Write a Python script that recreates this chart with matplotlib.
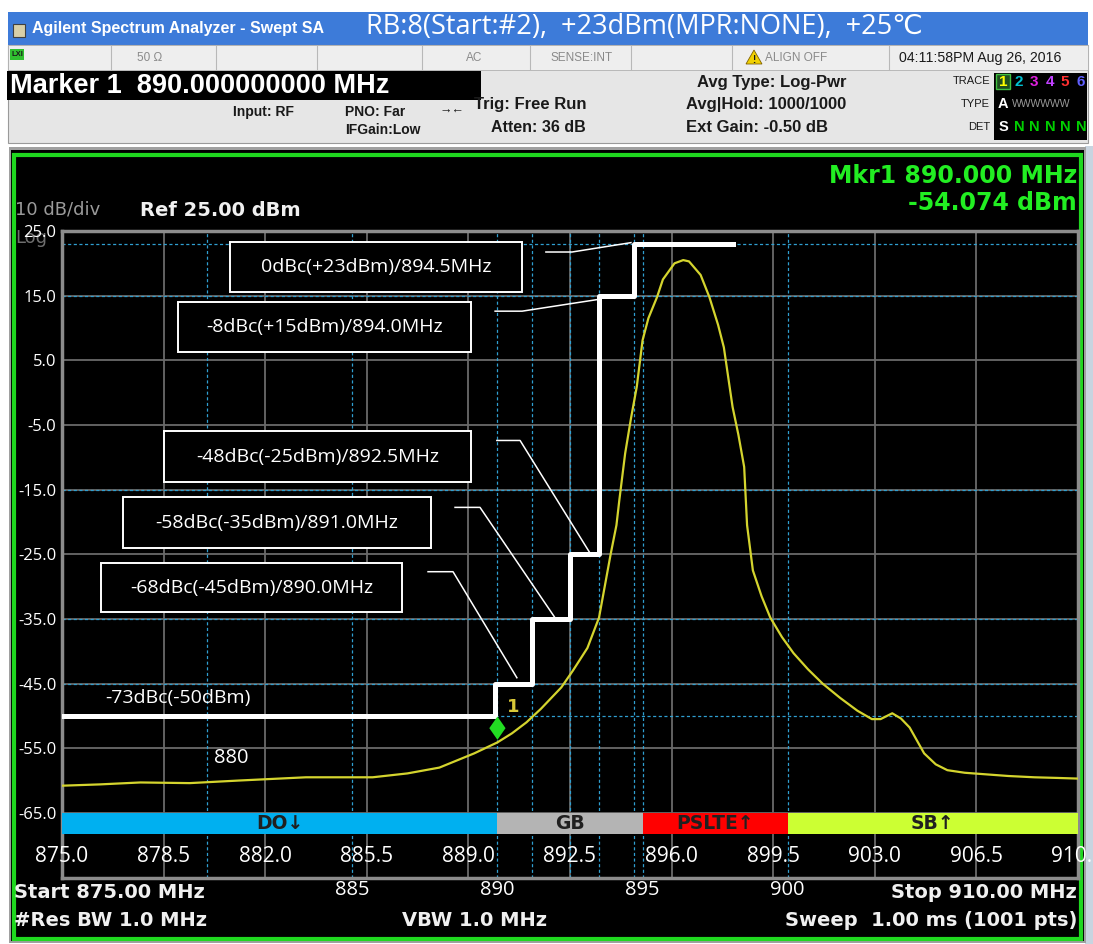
import matplotlib
matplotlib.use("Agg")
import matplotlib.pyplot as plt
import numpy as np
from matplotlib.patches import Rectangle, Polygon

W, H = 1093, 944

# =============================================================================
# values
# =============================================================================
trace_freq = [875.0, 876.3, 877.7, 879.4, 881.1, 883.4, 885.7, 886.9, 888.0, 889.2,
              890.0, 890.5, 891.0, 891.5, 892.2, 892.6, 893.1, 893.5, 893.9, 894.1,
              894.2, 894.4, 894.6, 894.8, 895.0, 895.2, 895.5, 895.7, 896.1, 896.4,
              896.6, 897.0, 897.3, 897.6, 897.8, 898.1, 898.3, 898.5, 898.6, 898.8,
              899.1, 899.4, 899.8, 900.2, 900.7, 901.2, 901.8, 902.4, 902.9, 903.2,
              903.6, 903.9, 904.2, 904.7, 905.1, 905.5, 906.1, 906.7, 907.6, 908.5,
              909.3, 910.0]
trace_dbm = [-60.8, -60.6, -60.3, -60.4, -60.0, -59.5, -59.5, -58.9, -58.0, -55.8,
             -54.1, -52.7, -51.0, -48.9, -45.6, -43.0, -39.5, -34.8, -25.0, -20.5,
             -16.6, -9.4, -4.0, 0.9, 8.1, 11.5, 14.8, 17.5, 20.0, 20.5,
             20.3, 18.2, 14.8, 10.5, 7.0, -2.2, -6.5, -11.5, -20.5, -27.5,
             -31.5, -34.8, -37.8, -40.3, -42.8, -45.0, -47.2, -49.2, -50.5, -50.5,
             -49.6, -50.4, -51.8, -55.8, -57.5, -58.4, -58.8, -59.0, -59.3, -59.5,
             -59.6, -59.7]

mask_freq = [875.0, 889.9, 891.2, 892.5, 893.5, 894.7, 898.1]
mask_dbm = [-50, -45, -35, -25, 15, 23]

band_names = ['DO↓', 'GB', 'PSLTE↑', 'SB↑']
band_edges = [875, 890, 895, 900, 910]
band_colors = ['#00b0f0', '#b4b4b4', '#ff0000', '#ccff33']

ytick_vals = [25, 15, 5, -5, -15, -25, -35, -45, -55, -65]
ytick_labels = ['25.0', '15.0', '5.0', '-5.0', '-15.0', '-25.0', '-35.0',
                '-45.0', '-55.0', '-65.0']
grid_ticks = [875.0, 878.5, 882.0, 885.5, 889.0, 892.5, 896.0, 899.5, 903.0, 906.5, 910.0]
grid_labels = ['875.0', '878.5', '882.0', '885.5', '889.0', '892.5', '896.0',
               '899.5', '903.0', '906.5', '910.0']
freq_ticks = [885, 890, 895, 900]
freq_labels = ['885', '890', '895', '900']

guide_freq = [880, 885, 890, 891.2, 892.5, 893.5, 894.7, 895, 900]
guide_dbm = [23, 15, -15, -35, -45, -50]

mask_notes = ['0dBc(+23dBm)/894.5MHz', '-8dBc(+15dBm)/894.0MHz',
              '-48dBc(-25dBm)/892.5MHz', '-58dBc(-35dBm)/891.0MHz',
              '-68dBc(-45dBm)/890.0MHz']

marker_freq = 890.0
marker_dbm = -54.074

# =============================================================================
# figure / background in pixel coords
# =============================================================================
fig = plt.figure(figsize=(W / 100, H / 100), dpi=100)
fig.patch.set_facecolor('white')
bg = fig.add_axes([0, 0, 1, 1])
bg.set_xlim(0, W)
bg.set_ylim(H, 0)
bg.axis('off')


def rect(x0, y0, x1, y1, fc, ec='none', lw=0, z=1):
    bg.add_patch(Rectangle((x0, y0), x1 - x0, y1 - y0, fc=fc, ec=ec, lw=lw, zorder=z))


def txt(x, y, s, size, color='#1a1a1a', ha='left', weight='bold', family='Liberation Sans', z=3):
    bg.text(x, y, s, fontsize=size, color=color, ha=ha, va='center',
            fontweight=weight, family=family, zorder=z)


# title bar
rect(8, 12, 1088, 45, '#3d7bd9')
rect(13, 24, 25, 37, '#d8cfa8', ec='#404040', lw=0.8, z=2)
txt(32, 29, 'Agilent Spectrum Analyzer - Swept SA', 11.5, color='white')
txt(366, 27, 'RB:8(Start:#2),  +23dBm(MPR:NONE),  +25℃', 19.5, color='white',
    weight='normal', family=['Open Sans', 'DejaVu Sans'])

# status row
rect(8, 45, 1088, 143, '#e6e6e6', ec='#9a9a9a', lw=0.8)
rect(8, 45, 1088, 70, '#eeeeee', ec='#b0b0b0', lw=0.6)
for sx in [111, 216, 317, 422, 530, 631, 732, 889]:
    bg.plot([sx, sx], [46, 69], color='#b8b8b8', lw=0.8, zorder=2)
rect(10, 49, 24, 60, '#30c030', z=2)
txt(17, 55, 'LXI', 5.5, ha='center', z=3)
txt(150, 58, '50 Ω', 8.5, color='#8a8a8a', ha='center', weight='normal')
txt(474, 58, 'AC', 8.5, color='#8a8a8a', ha='center', weight='normal')
txt(582, 58, 'SENSE:INT', 8.5, color='#8a8a8a', ha='center', weight='normal')
bg.add_patch(Polygon([(746, 64), (754, 50), (762, 64)], fc='#f0d000', ec='#806000',
                     lw=0.6, zorder=2))
txt(754, 60, '!', 7, ha='center')
txt(765, 58, 'ALIGN OFF', 8.5, color='#8a8a8a', weight='normal')
txt(899, 58, '04:11:58PM Aug 26, 2016', 10.2, weight='normal')

# marker readout
rect(7, 71, 481, 100, 'black', z=2)
txt(10, 86, 'Marker 1  890.000000000 MHz', 19.5, color='white')
txt(233, 112, 'Input: RF', 10)
txt(345, 112, 'PNO: Far', 10)
txt(440, 111, '→←', 9)
txt(345, 130, 'IFGain:Low', 10)
txt(474, 104, 'Trig: Free Run', 12)
txt(491, 127, 'Atten: 36 dB', 11.5)
txt(697, 82, 'Avg Type: Log-Pwr', 12)
txt(686, 104, 'Avg|Hold: 1000/1000', 12)
txt(686, 127, 'Ext Gain: -0.50 dB', 12)

# trace info box
txt(990, 81, 'TRACE', 8, ha='right', weight='normal')
txt(990, 104, 'TYPE', 8, ha='right', weight='normal')
txt(990, 127, 'DET', 8, ha='right', weight='normal')
rect(994, 73, 1087, 140, 'black', z=2)
rect(996, 74, 1010, 89, '#1f4f1f', ec='#40c040', lw=1, z=2)
for i, c in enumerate(['#ffff00', '#00c0d0', '#e020e0', '#c040ff', '#ff3030', '#6060ff']):
    txt(1003 + 15.5 * i, 82, str(i + 1), 11, color=c, ha='center', z=3)
txt(1003, 104, 'A', 10.5, color='white', ha='center')
txt(1012, 104, 'WWWWWW', 7.5, color='#9a9a9a', weight='normal')
txt(1003, 127, 'S', 10.5, color='white', ha='center')
for i in range(5):
    txt(1019 + 15.5 * i, 127, 'N', 10.5, color='#00d000', ha='center')

# measurement panel
rect(1085, 146, 1093, 944, '#c8d4e0')
rect(9, 147, 1086, 943, '#a0a0a0')
rect(11, 150, 1084, 941, 'black')
bg.add_patch(Rectangle((13.5, 154.5), 1067, 784, fc='none', ec='#1fd81f', lw=3, zorder=2))

txt(15, 210, '10 dB/div', 13, color='#9a9a9a', weight='normal', family='DejaVu Sans')
txt(15, 238, 'Log', 13, color='#6e6e6e', weight='normal', family='DejaVu Sans', z=2)
txt(140, 210, 'Ref 25.00 dBm', 14, color='#f0f0f0', family='DejaVu Sans')
txt(1077, 176, 'Mkr1 890.000 MHz', 17, color='#22ee22', ha='right', family='DejaVu Sans')
txt(1077, 203, '-54.074 dBm', 17, color='#22ee22', ha='right', family='DejaVu Sans')

txt(14, 892, 'Start 875.00 MHz', 14, color='#f0f0f0', family='DejaVu Sans')
txt(1077, 892, 'Stop 910.00 MHz', 14, color='#f0f0f0', ha='right', family='DejaVu Sans')
txt(14, 920, '#Res BW 1.0 MHz', 14, color='#f0f0f0', family='DejaVu Sans')
txt(474, 920, 'VBW 1.0 MHz', 14, color='#f0f0f0', ha='center', family='DejaVu Sans')
txt(1077, 920, 'Sweep  1.00 ms (1001 pts)', 14, color='#f0f0f0', ha='right',
    family='DejaVu Sans')

# =============================================================================
# spectrum axes
# =============================================================================
ax = fig.add_axes([62 / W, 1 - 877.5 / H, 1016 / W, 646.5 / H])
ax.set_facecolor('black')
ax.set_xlim(875, 910)
ax.set_ylim(-75, 25)
for sp in ax.spines.values():
    sp.set_color('#8c8c8c')
    sp.set_linewidth(2.5)

for v in grid_ticks[1:-1]:
    ax.axvline(v, color='#6a6a6a', lw=1.3, zorder=1)
for h in ytick_vals[1:]:
    ax.axhline(h, color='#6a6a6a', lw=1.3, zorder=1)
for v in guide_freq:
    ax.axvline(v, color='#2f9fd0', lw=0.9, ls=(0, (2.5, 2)), zorder=2)
for h in guide_dbm:
    ax.axhline(h, color='#2f9fd0', lw=0.9, ls=(0, (2.5, 2)), zorder=2)

ax.set_yticks(ytick_vals, labels=ytick_labels)
ax.set_xticks(freq_ticks, labels=freq_labels)
ax.tick_params(axis='y', length=0, pad=4, colors='white', labelsize=12)
ax.tick_params(axis='x', length=0, pad=1.5, colors='white', labelsize=14.5)
for t in ax.get_yticklabels() + ax.get_xticklabels():
    t.set_fontfamily('Open Sans')

# band bar
ax.barh(-66.65, np.diff(band_edges), left=band_edges[:-1], height=3.3,
        color=band_colors, zorder=3)
for i, name in enumerate(band_names):
    ax.text((band_edges[i] + band_edges[i + 1]) / 2, -66.7, name, ha='center',
            va='center', fontsize=13.5, fontweight='bold', color='#202020', zorder=4)

for v, l in zip(grid_ticks, grid_labels):
    ax.text(v, -71.8, l, ha='center', va='center', color='white', fontsize=15,
            family='Open Sans', clip_on=False, zorder=4)

# trace
ax.plot(trace_freq, trace_dbm, color='#d4d42e', lw=1.6, zorder=4)

# mask
ax.plot(mask_freq, mask_dbm + [mask_dbm[-1]], drawstyle='steps-post', color='white',
        lw=3.6, zorder=5)

# mask notes
boxes = [(880.8, 890.85, 15.5, 23.3), (879.0, 889.1, 6.3, 14.0),
         (878.5, 889.1, -13.9, -6.0), (877.1, 887.7, -24.1, -16.2),
         (876.35, 886.7, -34.0, -26.3)]
leaders = [[(891.67, 21.75), (892.57, 21.75), (894.6, 23.2)],
           [(889.92, 12.6), (890.85, 12.6), (893.45, 14.4)],
           [(889.98, -7.4), (890.78, -7.4), (893.2, -24.9)],
           [(888.54, -17.75), (889.40, -17.75), (891.98, -34.8)],
           [(887.61, -27.7), (888.47, -27.7), (890.67, -44.1)]]
for note, (x0, x1, y0, y1), ld in zip(mask_notes, boxes, leaders):
    ax.add_patch(Rectangle((x0, y0), x1 - x0, y1 - y0, fc='black', ec='white',
                           lw=1.4, zorder=6))
    ax.text((x0 + x1) / 2, (y0 + y1) / 2, note, ha='center', va='center', color='white',
            fontsize=14, family='Open Sans', zorder=7)
    lx, ly = zip(*ld)
    ax.plot(lx, ly, color='white', lw=1.1, zorder=6)

ax.text(879.0, -47.2, '-73dBc(-50dBm)', ha='center', va='center', color='white',
        fontsize=14, family='Open Sans', zorder=7)
ax.text(880.82, -56.5, '880', ha='center', va='center', color='white',
        fontsize=14.5, family='Open Sans', zorder=7)

# marker 1
ax.add_patch(Polygon([(marker_freq, -50.1), (marker_freq + 0.28, -51.9),
                      (marker_freq, -53.7), (marker_freq - 0.28, -51.9)],
                     fc='#22dd22', ec='none', zorder=8))
ax.text(marker_freq + 0.55, -48.6, '1', ha='center', va='center', color='#d8c838',
        fontsize=13, fontweight='bold', zorder=8)

fig.savefig('out.png', dpi=100, facecolor=fig.get_facecolor())
